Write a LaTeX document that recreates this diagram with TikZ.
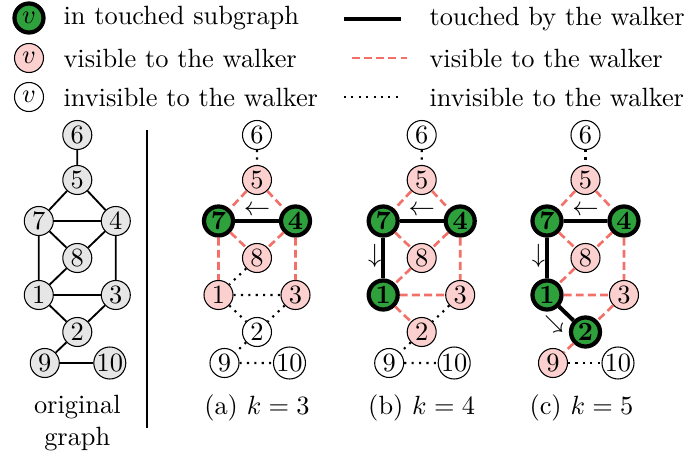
\documentclass[tikz,border=0pt]{standalone}
\usepackage{amsmath}
\definecolor{tgreen}{RGB}{46,160,60}
\definecolor{vpink}{RGB}{251,208,207}
\definecolor{vred}{RGB}{242,112,104}
\definecolor{ogray}{RGB}{230,230,230}
\tikzset{
  vtx/.style={circle, draw, inner sep=0pt, minimum size=11pt, line width=0.4pt},
  ov/.style={vtx, fill=ogray},
  pv/.style={vtx, fill=vpink},
  wv/.style={vtx, fill=white},
  gv/.style={vtx, fill=tgreen, line width=1.6pt, minimum size=11pt, font=\bfseries},
  touched/.style={line width=1.5pt, black},
  seen/.style={vred, line width=1pt, dash pattern=on 3pt off 1.6pt},
  unseen/.style={line width=0.8pt, dotted},
  orig/.style={line width=0.7pt},
  lbl/.style={anchor=west, inner sep=0pt},
  arr/.style={inner sep=0pt},
}
\begin{document}
\begin{tikzpicture}[x=0.379pt, y=-0.379pt]
\useasboundingbox (0,0) rectangle (688,459);
% legend
\node[gv, font=\normalfont] (lg) at (29,18) {$v$};
\node[pv] (lp) at (29,58) {$v$};
\node[wv] (lw) at (29,97) {$v$};
\node[lbl] (tg) at (63,18) {in touched subgraph};
\node[lbl] (tp) at (63,58) {visible to the walker};
\node[lbl] (tw) at (63,97) {invisible to the walker};
\coordinate (l1a) at (344,19); \coordinate (l1b) at (401,19);
\coordinate (l2a) at (352,58); \coordinate (l2b) at (407,58);
\coordinate (l3a) at (344,97); \coordinate (l3b) at (399,97);
\draw[touched] (l1a) -- (l1b);
\draw[seen] (l2a) -- (l2b);
\draw[unseen] (l3a) -- (l3b);
\node[lbl] (t1) at (429,19) {touched by the walker};
\node[lbl] (t2) at (429,58) {visible to the walker};
\node[lbl] (t3) at (429,97) {invisible to the walker};
% separator
\coordinate (s1) at (147,130); \coordinate (s2) at (147,428);
\draw[line width=0.8pt] (s1) -- (s2);
% original graph
\begin{scope}[shift={(77.3,0)}]
\node[ov] (o6) at (0,135) {6};
\node[ov] (o5) at (0,180) {5};
\node[ov] (o7) at (-38.5,221) {7};
\node[ov] (o4) at (38.5,221) {4};
\node[ov] (o8) at (0,258) {8};
\node[ov] (o1) at (-38.5,295) {1};
\node[ov] (o3) at (38.5,295) {3};
\node[ov] (o2) at (0,332) {2};
\node[ov] (o9) at (-32.5,363) {9};
\node[ov] (o10) at (32.5,363) {10};
\draw[orig] (o6)--(o5) (o5)--(o7) (o5)--(o4) (o7)--(o4) (o7)--(o8) (o4)--(o8)
  (o7)--(o1) (o4)--(o3) (o8)--(o1) (o1)--(o3) (o1)--(o2) (o3)--(o2) (o2)--(o9) (o9)--(o10);
\node[align=center, inner sep=0pt] (ocap) at (0,423) {original\\graph};
\end{scope}
% panel a
\begin{scope}[shift={(257,0)}]
\node[wv] (a6) at (0,135) {6};
\node[pv] (a5) at (0,180) {5};
\node[gv] (a7) at (-38.5,221) {7};
\node[gv] (a4) at (38.5,221) {4};
\node[pv] (a8) at (0,258) {8};
\node[pv] (a1) at (-38.5,295) {1};
\node[pv] (a3) at (38.5,295) {3};
\node[wv] (a2) at (0,332) {2};
\node[wv] (a9) at (-32.5,363) {9};
\node[wv] (a10) at (32.5,363) {10};
\draw[unseen] (a6)--(a5) (a8)--(a1) (a1)--(a3) (a1)--(a2) (a3)--(a2) (a2)--(a9) (a9)--(a10);
\draw[seen] (a5)--(a7) (a5)--(a4) (a7)--(a8) (a4)--(a8) (a7)--(a1) (a4)--(a3);
\draw[touched] (a7)--(a4);
\node[arr] (aar1) at (0,211) {$\leftarrow$};
\node (acap) at (0,408) {(a) $k=3$};
\end{scope}
% panel b
\begin{scope}[shift={(421.7,0)}]
\node[wv] (b6) at (0,135) {6};
\node[pv] (b5) at (0,180) {5};
\node[gv] (b7) at (-38.5,221) {7};
\node[gv] (b4) at (38.5,221) {4};
\node[pv] (b8) at (0,258) {8};
\node[gv] (b1) at (-38.5,295) {1};
\node[pv] (b3) at (38.5,295) {3};
\node[pv] (b2) at (0,332) {2};
\node[wv] (b9) at (-32.5,363) {9};
\node[wv] (b10) at (32.5,363) {10};
\draw[unseen] (b6)--(b5) (b3)--(b2) (b2)--(b9) (b9)--(b10);
\draw[seen] (b5)--(b7) (b5)--(b4) (b7)--(b8) (b4)--(b8) (b4)--(b3) (b8)--(b1) (b1)--(b3) (b1)--(b2);
\draw[touched] (b7)--(b4) (b7)--(b1);
\node[arr] (bar1) at (0,211) {$\leftarrow$};
\node[arr] (bar2) at (-47,256) {$\downarrow$};
\node (bcap) at (0,408) {(b) $k=4$};
\end{scope}
% panel c
\begin{scope}[shift={(585.5,0)}]
\node[wv] (c6) at (0,135) {6};
\node[pv] (c5) at (0,180) {5};
\node[gv] (c7) at (-38.5,221) {7};
\node[gv] (c4) at (38.5,221) {4};
\node[pv] (c8) at (0,258) {8};
\node[gv] (c1) at (-38.5,295) {1};
\node[pv] (c3) at (38.5,295) {3};
\node[gv] (c2) at (0,332) {2};
\node[pv] (c9) at (-32.5,363) {9};
\node[wv] (c10) at (32.5,363) {10};
\draw[unseen] (c6)--(c5) (c9)--(c10);
\draw[seen] (c5)--(c7) (c5)--(c4) (c7)--(c8) (c4)--(c8) (c4)--(c3) (c8)--(c1) (c1)--(c3) (c3)--(c2) (c2)--(c9);
\draw[touched] (c7)--(c4) (c7)--(c1) (c1)--(c2);
\node[arr] (car1) at (0,211) {$\leftarrow$};
\node[arr] (car2) at (-47,256) {$\downarrow$};
\node[arr, rotate=-45] (car3) at (-32,325) {$\rightarrow$};
\node (ccap) at (-4,408) {(c) $k=5$};
\end{scope}
\end{tikzpicture}
\end{document}
